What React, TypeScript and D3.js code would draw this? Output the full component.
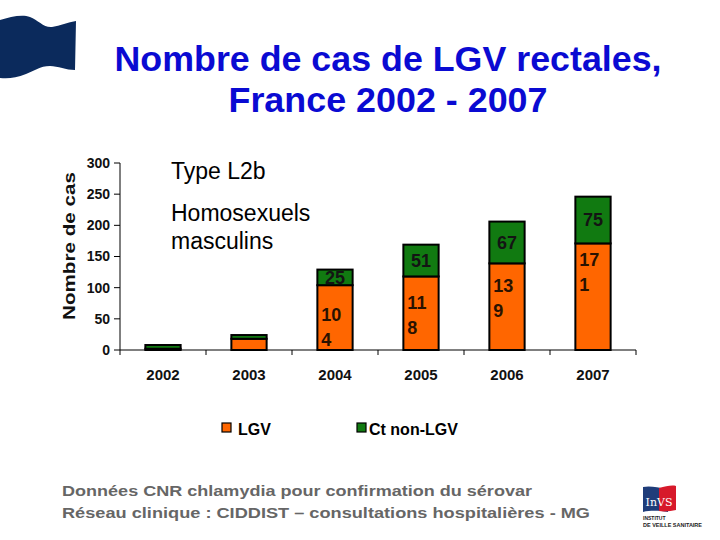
import React from "react";
import * as d3 from "d3";

const years = ["2002", "2003", "2004", "2005", "2006", "2007"];
const lgv = [2, 18, 104, 118, 139, 171];
const ctNonLgv = [6, 6, 25, 51, 67, 75];
const yTicks = [0, 50, 100, 150, 200, 250, 300];
const seriesNames = ["LGV", "Ct non-LGV"];
const titleLines = ["Nombre de cas de LGV rectales,", "France 2002 - 2007"];
const noteLines = ["Type L2b", "Homosexuels", "masculins"];
const footerLines = [
  "Données CNR chlamydia pour confirmation du sérovar",
  "Réseau clinique :  CIDDIST – consultations hospitalières - MG",
];

const ORANGE = "#ff6600";
const GREEN = "#117a11";
const FONT = "Arial, 'Liberation Sans', Helvetica, sans-serif";

function splitLabel(v: number): string[] {
  const s = String(v);
  if (s.length <= 2) return [s];
  return [s.slice(0, 2), s.slice(2)];
}

export default function App() {
  const W = 720, H = 540;
  const x0 = 120, x1 = 636, yTop = 163, yBottom = 350;
  const x = d3.scaleBand<string>().domain(years).range([x0, x1]).paddingInner(0.59).paddingOuter(0.295);
  const y = d3.scaleLinear().domain([0, 300]).range([yBottom, yTop]);
  const step = x.step();
  const bw = x.bandwidth();

  const stack = d3.stack<any>().keys(["lgv", "ct"])(
    years.map((yr, i) => ({ year: yr, lgv: lgv[i], ct: ctNonLgv[i] }))
  );

  return (
    <svg width={W} height={H} style={{ position: "absolute", left: 0, top: 0, background: "#fff" }} fontFamily={FONT}>
      <rect x={0} y={0} width={W} height={H} fill="#fff" />
      {/* flag */}
      <path
        d="M0,20 C10,17 22,14 30,17 C38,20 44,28 52,27 C60,26 68,22 76,21 L75,70 C66,70 58,66 50,66 C40,66 34,71 26,74 C16,78 8,79 0,78 Z"
        fill="#0b2a5c"
      />
      {/* title */}
      <text x={388} y={71} textAnchor="middle" fontSize={35} fontWeight="bold" fill="#0a0ad2" textLength={547} lengthAdjust="spacingAndGlyphs">
        {titleLines[0]}
      </text>
      <text x={388} y={112} textAnchor="middle" fontSize={35} fontWeight="bold" fill="#0a0ad2" textLength={319} lengthAdjust="spacingAndGlyphs">
        {titleLines[1]}
      </text>

      {/* y axis title */}
      <text transform={`translate(75,${(172 + 320) / 2}) rotate(-90)`} textAnchor="middle" fontSize={17} fontWeight="bold" fill="#111" textLength={148} lengthAdjust="spacingAndGlyphs">
        Nombre de cas
      </text>

      {/* y axis */}
      <line x1={x0} x2={x0} y1={y(300)} y2={y(0)} stroke="#000" strokeWidth={1} />
      {yTicks.map((t) => (
        <g key={t}>
          <line x1={x0 - 6} x2={x0} y1={y(t)} y2={y(t)} stroke="#000" />
          <text x={110} y={y(t)} dy="0.35em" textAnchor="end" fontSize={14} fontWeight="bold" fill="#111">
            {t}
          </text>
        </g>
      ))}

      {/* bars */}
      {stack.map((layer, li) =>
        layer.map((d, i) => (
          <rect
            key={`${li}-${i}`}
            x={x(years[i])}
            y={y(d[1])}
            width={bw}
            height={y(d[0]) - y(d[1])}
            fill={li === 0 ? ORANGE : GREEN}
            stroke="#000"
            strokeWidth={2}
          />
        ))
      )}

      {/* x axis */}
      <line x1={x0} x2={x1} y1={yBottom} y2={yBottom} stroke="#000" />
      {d3.range(years.length + 1).map((k) => (
        <line key={k} x1={x0 + k * step} x2={x0 + k * step} y1={yBottom} y2={yBottom + 5} stroke="#000" />
      ))}
      {years.map((yr) => (
        <text key={yr} x={(x(yr) as number) + bw / 2} y={380} textAnchor="middle" fontSize={15} fontWeight="bold" fill="#111">
          {yr}
        </text>
      ))}

      {/* data labels */}
      {years.map((yr, i) => {
        const bx = x(yr) as number;
        const els: any[] = [];
        if (ctNonLgv[i] >= 20) {
          const cy = (y(lgv[i]) + y(lgv[i] + ctNonLgv[i])) / 2;
          els.push(
            <text key="c" x={bx + bw / 2} y={cy} dy="0.35em" textAnchor="middle" fontSize={18} fontWeight="bold" fill="#141414">
              {ctNonLgv[i]}
            </text>
          );
        }
        if (lgv[i] >= 50) {
          const top = y(lgv[i]);
          const h = y(0) - top;
          const center = top + 42 - 0.3 * (h - 64);
          const lines = splitLabel(lgv[i]);
          lines.forEach((ln, k) => {
            els.push(
              <text key={`l${k}`} x={bx + 4} y={center + (k - (lines.length - 1) / 2) * 25} dy="0.35em" fontSize={18} fontWeight="bold" fill="#2a1200">
                {ln}
              </text>
            );
          });
        }
        return <g key={yr}>{els}</g>;
      })}

      {/* notes */}
      <text x={171} y={179} fontSize={23} fill="#000">{noteLines[0]}</text>
      <text x={171} y={221} fontSize={23} fill="#000">{noteLines[1]}</text>
      <text x={171} y={249} fontSize={23} fill="#000">{noteLines[2]}</text>

      {/* legend */}
      <rect x={222} y={423} width={9} height={9} fill={ORANGE} stroke="#000" strokeWidth={1.2} />
      <text x={238} y={435} fontSize={16} fontWeight="bold" fill="#000">{seriesNames[0]}</text>
      <rect x={357} y={423} width={9} height={9} fill={GREEN} stroke="#000" strokeWidth={1.2} />
      <text x={369} y={435} fontSize={16} fontWeight="bold" fill="#000">{seriesNames[1]}</text>

      {/* footer */}
      <text x={62} y={496} fontSize={15.5} fontWeight="bold" fill="#666" textLength={470} lengthAdjust="spacingAndGlyphs">
        {footerLines[0]}
      </text>
      <text x={62} y={518} fontSize={15.5} fontWeight="bold" fill="#666" textLength={528} lengthAdjust="spacingAndGlyphs">
        {footerLines[1]}
      </text>

      {/* InVS logo */}
      <g>
        <path d="M643,487 C652,485 660,489 668,488 L668,512 C660,511 652,510 643,512 Z" fill="#1f3d7a" />
        <path d="M659,488 C666,486 672,485 676,486 L676,510 C671,511 665,512 659,511 Z" fill="#d7192b" />
        <text x={659} y={506} textAnchor="middle" fontSize={11} fill="#fff" fontFamily="'DejaVu Serif', serif">InVS</text>
        <text x={643} y={520} fontSize={5} fontWeight="bold" fill="#222">INSTITUT</text>
        <text x={643} y={527} fontSize={5} fontWeight="bold" fill="#222" textLength={59} lengthAdjust="spacingAndGlyphs">DE VEILLE SANITAIRE</text>
      </g>
    </svg>
  );
}
